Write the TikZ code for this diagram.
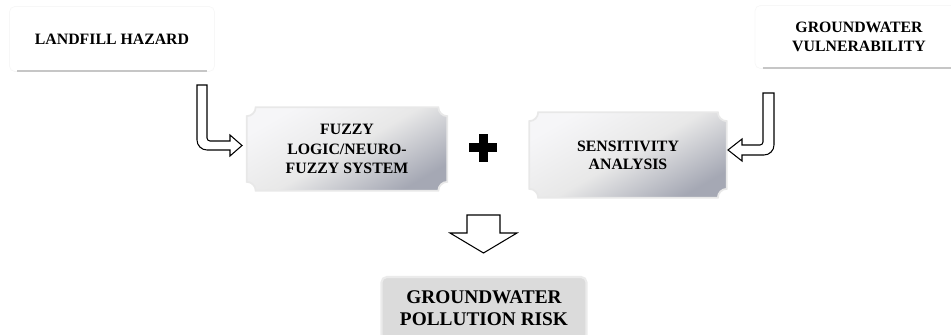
\documentclass[tikz,border=0pt]{standalone}
\usepackage{fontspec}
\setmainfont{Liberation Serif}
\usetikzlibrary{calc, backgrounds}
\definecolor{silverdark}{RGB}{165,168,180}
\definecolor{silverlight}{RGB}{246,246,248}
\tikzset{
x=0.02cm, y=0.02cm, % one unit is one pixel of the layout
every node/.style={font=\fontsize{9}{11}\selectfont\bfseries, align=center}, % bold serif labels
source/.style={rectangle, rounded corners=3pt, fill=white, draw=gray!6, minimum width=4.1cm, minimum height=1.3cm}, % white input boxes
plaque/.style={rectangle, minimum width=4cm, minimum height=1.66cm}, % silver plates, shape drawn behind
plaquefill/.style={top color=silverlight, bottom color=silverdark, middle color=gray!18, shading angle=30, draw=gray!18, line width=1pt},
result/.style={rectangle, rounded corners=3pt, fill=gray!28, draw=gray!16, line width=1.2pt, minimum width=4.1cm, minimum height=1.26cm, font=\fontsize{11}{12.5}\selectfont\bfseries},
bodyline/.style={draw=gray!45, line width=1.1pt}, % grey edge under the input boxes
blockarrow/.style={draw=black, fill=white, line width=0.6pt, line join=miter},
}
% silver plate with concave corners round a node
\newcommand{\plaqueshape}[1]{%
\path[plaquefill] ($(#1.north west)+(9,0)$) -- ($(#1.north east)+(-9,0)$)
  arc[start angle=180, end angle=270, radius=9] -- ($(#1.south east)+(0,9)$)
  arc[start angle=90, end angle=180, radius=9] -- ($(#1.south west)+(9,0)$)
  arc[start angle=0, end angle=90, radius=9] -- ($(#1.north west)+(0,-9)$)
  arc[start angle=270, end angle=360, radius=9] -- cycle;}

\begin{document}
\begin{tikzpicture}
\useasboundingbox (0,0) rectangle (951,335);
\node[source] (hazard) at (112,296) {LANDFILL HAZARD};
\node[source, minimum width=4.16cm, minimum height=1.26cm] (vuln) at (859,298) {GROUNDWATER\\VULNERABILITY};
\node[plaque] (fuzzy) at (347,186) {FUZZY\\LOGIC/NEURO-\\FUZZY SYSTEM};
\node[plaque, minimum width=3.94cm, minimum height=1.7cm, font=\fontsize{9}{10.2}\selectfont\bfseries] (sens) at (628,180) {SENSITIVITY\\ANALYSIS};
\node[result] (risk) at (484,26.5) {GROUNDWATER\\POLLUTION RISK};
\coordinate (plus) at (483,187);
\begin{scope}[on background layer]
\plaqueshape{fuzzy}
\plaqueshape{sens}
\end{scope}
\draw[bodyline] ($(hazard.south west)+(8,1)$) -- ($(hazard.south east)+(-8,1)$);
\draw[bodyline] ($(vuln.south west)+(8,1)$) -- ($(vuln.south east)+(-8,1)$);
% bent arrow into the fuzzy plate
\draw[blockarrow] (197,250) -- (197,195) arc[start angle=180, end angle=270, radius=10]
  -- (230,185) -- (230,179) -- (242,189.5) -- (230,200) -- (230,194) -- (210,194)
  arc[start angle=270, end angle=180, radius=3] -- (207,250) -- cycle;
% bent arrow into the sensitivity plate
\draw[blockarrow] (774,242) -- (774,190) arc[start angle=0, end angle=-90, radius=10]
  -- (742,180) -- (742,174) -- (728,185) -- (742,196) -- (742,190) -- (760,190)
  arc[start angle=270, end angle=360, radius=3] -- (763,242) -- cycle;
% plus sign
\fill ($(plus)+(-4.5,-14)$) rectangle ($(plus)+(4.5,14)$);
\fill ($(plus)+(-14,-4.5)$) rectangle ($(plus)+(14,4.5)$);
% down arrow to the result
\draw[blockarrow] (467,120) -- (500,120) -- (500,102) -- (517,102) -- (483.5,82) -- (450,102) -- (467,102) -- cycle;
\end{tikzpicture}
\end{document}
